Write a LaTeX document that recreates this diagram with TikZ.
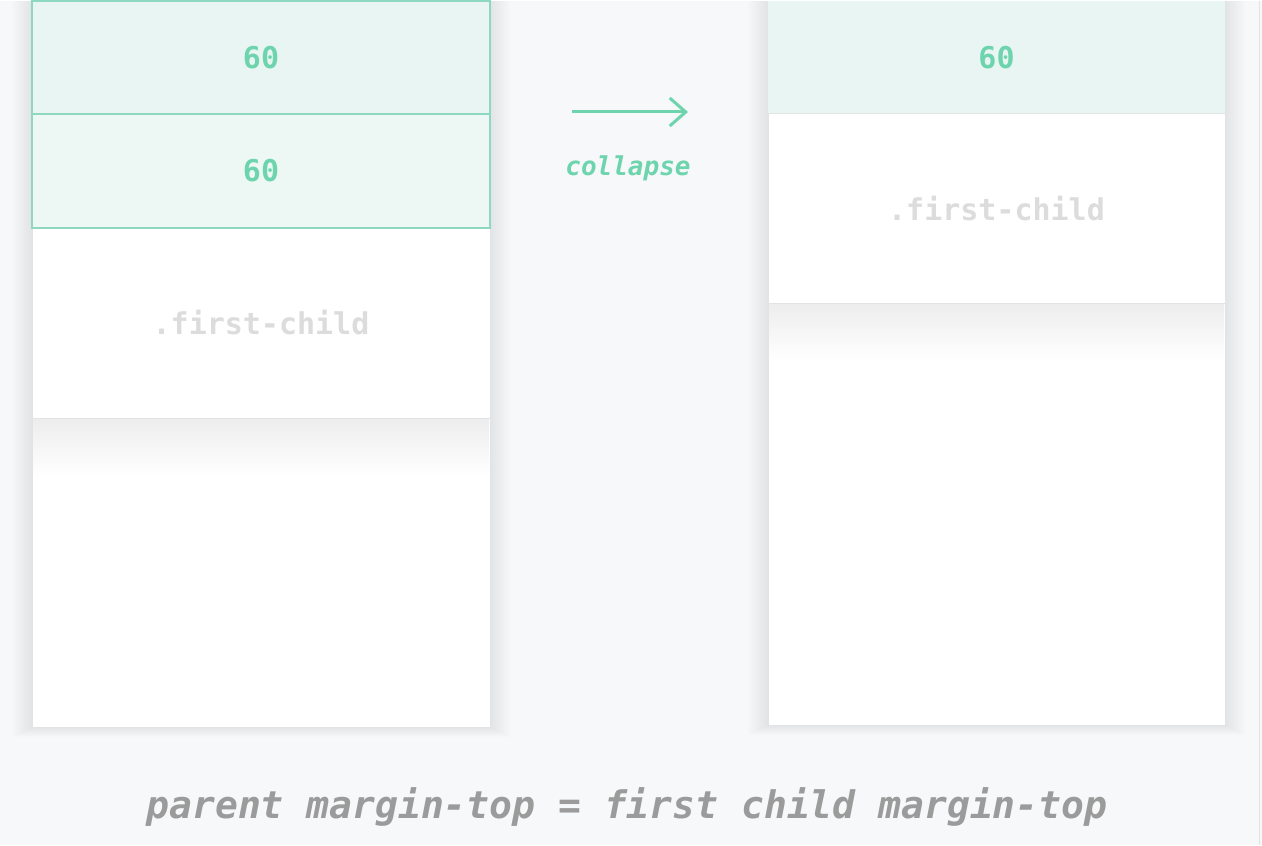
\documentclass[tikz,border=0pt]{standalone}
\usepackage{fontspec}
\setmonofont{DejaVu Sans Mono}
\usetikzlibrary{arrows.meta}
\definecolor{bg}{HTML}{F6F8F9}
\definecolor{mint}{HTML}{6DD4AE}
\definecolor{mintline}{HTML}{8ED8BF}
\definecolor{mintfill}{HTML}{E8F5F2}
\definecolor{mintfilltwo}{HTML}{EDF8F5}
\definecolor{childtext}{HTML}{DCDCDC}
\definecolor{edge}{HTML}{E2E3E4}
\definecolor{caption}{HTML}{9B9B9B}
\tikzset{
  parentbox/.style={fill=white, draw=edge, line width=1pt},
  childbox/.style={fill=white, draw=edge, line width=1pt},
  marginbox/.style={draw=mintline, line width=2pt},
  numtext/.style={text=mint, font=\ttfamily\bfseries\fontsize{30}{30}\selectfont},
  childlabel/.style={text=childtext, font=\ttfamily\bfseries\fontsize{30}{30}\selectfont},
}
\begin{document}
\begin{tikzpicture}[x=1pt, y=-1pt, inner sep=0pt]
    \fill[bg] (0, 0) rectangle (1262, 844); % background
    \draw[edge, line width=1pt] (1259, 0) -- (1259, 844); % frame edge
    \foreach \s in {2, 4, ..., 20} {
        \fill[black, opacity=0.006] (32-\s, 0) rectangle (490+\s, 726+\s/2); % left shadow
        \fill[black, opacity=0.006] (768-\s, 0) rectangle (1225+\s, 724+\s/2); % right shadow
    }
    % before
    \draw[parentbox] (32, 0) rectangle (490, 726); % parent
    \shade[top color=black!7, bottom color=white] (33, 418) rectangle (489, 475); % child shadow
    \draw[childbox] (32, 227) rectangle (490, 417) node[midway, childlabel] (lchild) {.first-child}; % first child
    \draw[marginbox, fill=mintfill] (32, 0) rectangle (490, 113) node[midway, numtext] (lparent) {60}; % parent margin
    \draw[marginbox, fill=mintfilltwo] (32, 113) rectangle (490, 227) node[midway, numtext] (lmargin) {60}; % child margin
    % arrow
    \coordinate (from) at (572, 111);
    \coordinate (to) at (688, 111);
    \draw[mint, line width=3pt, -{Straight Barb[length=16pt, width=28pt, line width=3pt]}] (from) -- (to);
    \node[text=mint, font=\ttfamily\bfseries\itshape\fontsize{26}{26}\selectfont] (collapse) at (628, 167) {collapse};
    % after
    \fill[mintfill] (768, 0) rectangle (1225, 113) node[midway, numtext] (rmargin) {60}; % collapsed margin
    \draw[parentbox] (768, 113) rectangle (1225, 724); % parent
    \shade[top color=black!7, bottom color=white] (769, 303) rectangle (1224, 360); % child shadow
    \draw[childbox] (768, 113) rectangle (1225, 302) node[midway, childlabel] (rchild) {.first-child}; % first child
    \node[text=caption, font=\ttfamily\bfseries\itshape\fontsize{38}{38}\selectfont] (rule) at (627, 806) {parent margin-top = first child margin-top};
\end{tikzpicture}
\end{document}
